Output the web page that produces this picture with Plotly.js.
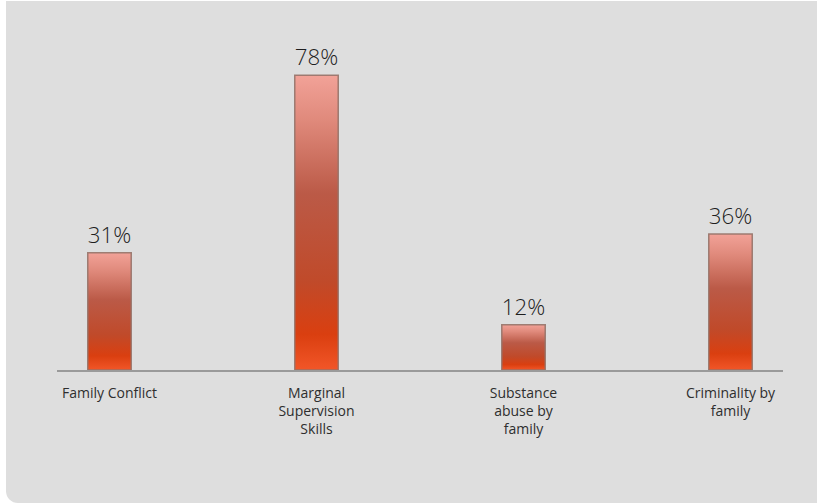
<!DOCTYPE html>
<html>
<head>
<meta charset="utf-8">
<script src="https://cdn.plot.ly/plotly-3.0.1.min.js"></script>
<style>
  html, body { margin: 0; padding: 0; background: #ffffff; }
  #chart { position: absolute; left: 6px; top: 1px; width: 811px; height: 502px;
           border-bottom-left-radius: 12px; overflow: hidden; }
</style>
</head>
<body>
<div id="chart"></div>
<script>
// Data
var categories = ["Family Conflict", "Marginal<br>Supervision<br>Skills", "Substance<br>abuse by<br>family", "Criminality by<br>family"];
var values = [31, 78, 12, 36];
var valueLabels = ["31%", "78%", "12%", "36%"];

var FONT = "'Open Sans', 'DejaVu Sans', sans-serif";

var trace = {
  type: "bar",
  x: categories,
  y: values,
  text: valueLabels,
  textposition: "outside",
  cliponaxis: false,
  textfont: { family: FONT, size: 23, color: "#1e1e1e", weight: 300 },
  width: 0.21,
  marker: {
    color: "#c4502f",
    line: { color: "rgba(150,115,105,0.9)", width: 1.5 }
  },
  hoverinfo: "none"
};

var layout = {
  width: 811,
  height: 502,
  margin: { l: 51, r: 34, t: 39, b: 133 },
  paper_bgcolor: "#dedede",
  plot_bgcolor: "rgba(0,0,0,0)",
  showlegend: false,
  font: { family: FONT, color: "#333333" },
  xaxis: {
    type: "category",
    range: [-0.2536, 3.2536],
    showline: true,
    linecolor: "#9a9a9a",
    linewidth: 2,
    ticks: "",
    ticklabelstandoff: 9,
    showgrid: false,
    zeroline: false,
    tickfont: { family: FONT, size: 14, color: "#2e2e2e" },
    fixedrange: true
  },
  yaxis: {
    range: [0, 87.3],
    visible: false,
    showgrid: false,
    zeroline: false,
    fixedrange: true
  }
};

Plotly.newPlot("chart", [trace], layout, { displayModeBar: false, staticPlot: true }).then(function (gd) {
  var svg = gd.querySelector("svg.main-svg");
  var ns = "http://www.w3.org/2000/svg";
  var defs = svg.querySelector("defs") || svg.insertBefore(document.createElementNS(ns, "defs"), svg.firstChild);
  var grad = document.createElementNS(ns, "linearGradient");
  grad.setAttribute("id", "barGrad");
  grad.setAttribute("x1", "0"); grad.setAttribute("y1", "0");
  grad.setAttribute("x2", "0"); grad.setAttribute("y2", "1");
  var stops = [
    [0.00, "#f2a298"],
    [0.15, "#e08a7c"],
    [0.40, "#bb5a47"],
    [0.70, "#c04a2a"],
    [0.88, "#da3f10"],
    [1.00, "#f25628"]
  ];
  stops.forEach(function (s) {
    var st = document.createElementNS(ns, "stop");
    st.setAttribute("offset", s[0]);
    st.setAttribute("stop-color", s[1]);
    grad.appendChild(st);
  });
  defs.appendChild(grad);
  gd.querySelectorAll(".bars .point path").forEach(function (p) {
    p.style.fill = "url(#barGrad)";
  });
});
</script>
</body>
</html>
